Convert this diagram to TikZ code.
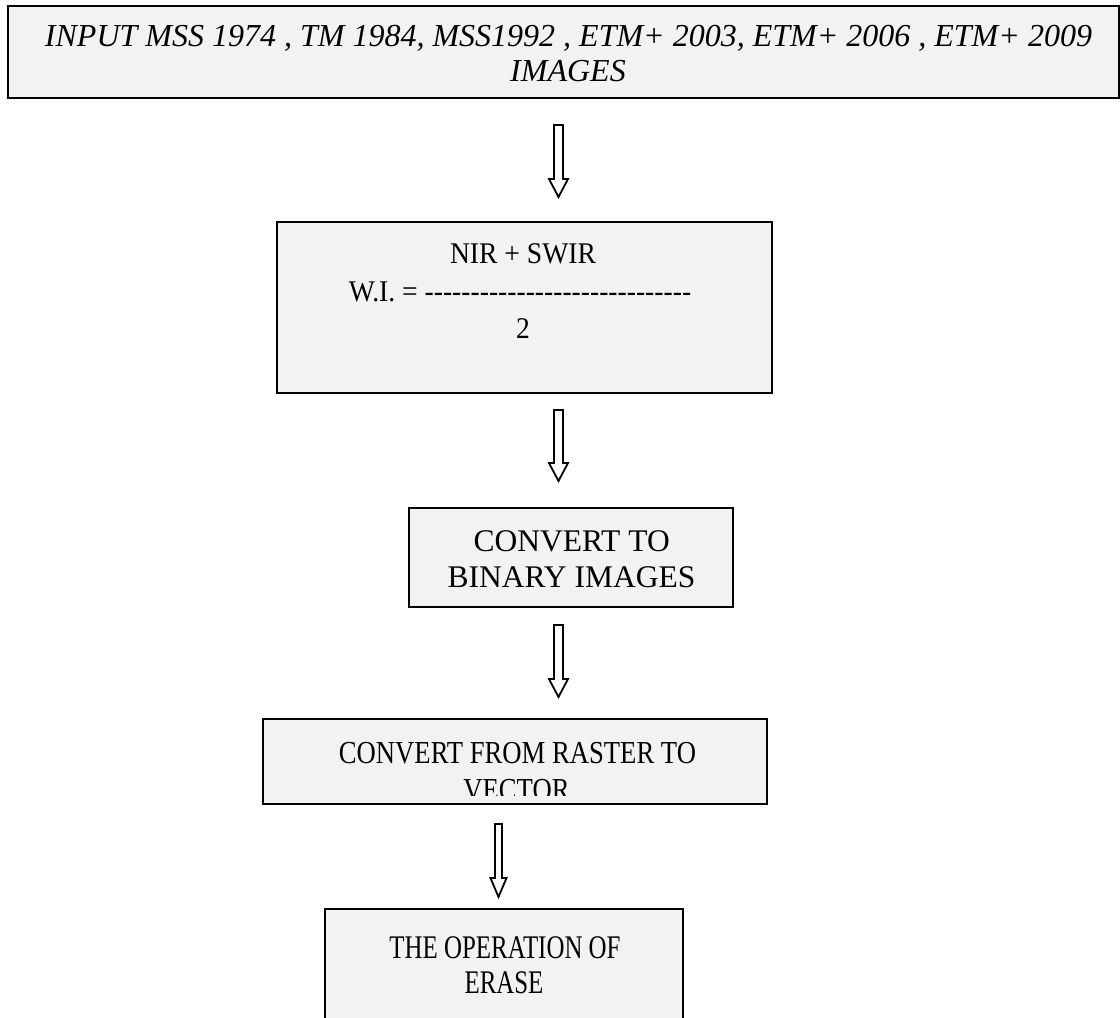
\documentclass[tikz,border=0pt]{standalone}
\usepackage{fontspec}
\setmainfont{Liberation Serif}
\usepackage{graphicx}
\usetikzlibrary{calc}
\definecolor{boxgray}{RGB}{242,242,242}
\newcommand\fs[2]{\fontsize{#1}{#2}\selectfont}
\newcommand\dq{\mbox{-}\mbox{-}\mbox{-}\mbox{-}}
\newcommand\dashrow{\dq\dq\dq\dq\dq\dq\dq\mbox{-}}
\tikzset{
  boxnode/.style={draw=black, line width=2pt, fill=boxgray, rectangle, inner sep=0pt},
  txt/.style={anchor=base, inner sep=0pt, outer sep=0pt},
  hollow/.style={draw=black, line width=1.8pt, fill=white, line join=miter},
}
\newcommand\hollowarrow[5]{%
  \draw[hollow] let \p1=(#1), \p2=(#2) in
    (\x1-#3pt,\y1) -- (\x1+#3pt,\y1) -- (\x1+#3pt,\y2+#5pt) -- (\x1+#4pt,\y2+#5pt)
    -- (\x1,\y2) -- (\x1-#4pt,\y2+#5pt) -- (\x1-#3pt,\y2+#5pt) -- cycle;}
\begin{document}
\begin{tikzpicture}[x=1pt,y=-1pt]
\useasboundingbox (0,0) rectangle (1120,1018);
\fill[white] (0,0) rectangle (1120,1018);

% boxes
\node[boxnode, minimum width=1111pt, minimum height=92pt] (b1) at (563.5,52) {};
\node[boxnode, minimum width=495pt, minimum height=171pt] (b2) at (524.5,307.5) {};
\node[boxnode, minimum width=324pt, minimum height=99pt] (b3) at (571,557.5) {};
\node[boxnode, minimum width=504pt, minimum height=85pt] (b4) at (515,761.5) {};
\node[boxnode, minimum width=358pt, minimum height=151pt] (b5) at (504,984.5) {};

% texts
\node[txt, font=\fs{32}{36}\itshape] (t1a) at (568.5,46) {INPUT MSS 1974 , TM 1984, MSS1992 , ETM+ 2003, ETM+ 2006 , ETM+ 2009};
\node[txt, font=\fs{32}{36}\itshape] (t1b) at (568,81) {IMAGES};

\node[txt, font=\fs{30}{36}] (t2a) at (523,263) {\scalebox{0.92}[1]{NIR + SWIR}};
\node[txt, font=\fs{30}{36}] (t2b) at (520,301) {\scalebox{0.92}[1]{W.I. = \dashrow}};
\node[txt, font=\fs{30}{36}] (t2c) at (523,338) {\scalebox{0.92}[1]{2}};

\node[txt, font=\fs{31.5}{36}] (t3a) at (571.7,551) {CONVERT TO};
\node[txt, font=\fs{31.5}{36}] (t3b) at (571.5,587) {BINARY IMAGES};

\node[txt, font=\fs{32}{36}] (t4a) at (517.5,763) {\scalebox{0.833}[1]{CONVERT FROM RASTER TO}};
\begin{scope}
  \clip (263,719) rectangle (767,795);
  \node[txt, font=\fs{32}{36}] (t4b) at (516.5,800) {\scalebox{0.833}[1]{VECTOR}};
\end{scope}

\node[txt, font=\fs{33}{36}] (t5a) at (505,958) {\scalebox{0.755}[1]{THE OPERATION OF}};
\node[txt, font=\fs{33}{36}] (t5b) at (504,993) {\scalebox{0.755}[1]{ERASE}};

% connectors
\coordinate (a1s) at ($(b1.south)+(-5,26)$);
\coordinate (a1e) at ($(b2.north)+(34,-24)$);
\coordinate (a2s) at ($(b2.south)+(34,16)$);
\coordinate (a2e) at ($(b3.north)+(-12.5,-26)$);
\coordinate (a3s) at ($(b3.south)+(-12.5,17)$);
\coordinate (a3e) at ($(b4.north)+(43.5,-21)$);
\coordinate (a4s) at ($(b4.south)+(-16.5,19)$);
\coordinate (a4e) at ($(b5.north)+(-5.5,-11)$);
\hollowarrow{a1s}{a1e}{4.5}{9.5}{18}
\hollowarrow{a2s}{a2e}{4.5}{9.5}{18}
\hollowarrow{a3s}{a3e}{4.5}{9.5}{18}
\hollowarrow{a4s}{a4e}{3.5}{8}{19}
\end{tikzpicture}
\end{document}
